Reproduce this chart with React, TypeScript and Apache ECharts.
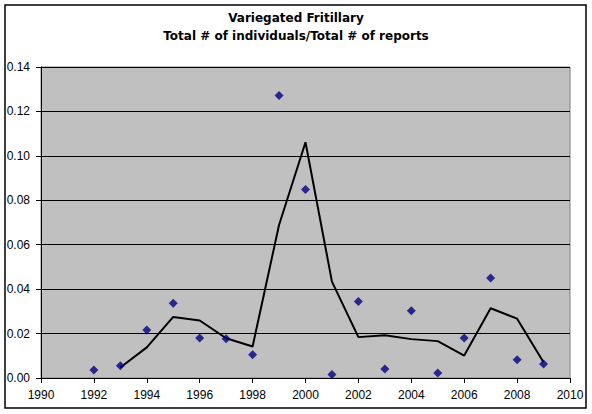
import React, { useEffect, useRef } from "react";
import * as echarts from "echarts";

const years = [1992, 1993, 1994, 1995, 1996, 1997, 1998, 1999, 2000, 2001, 2002, 2003, 2004, 2005, 2006, 2007, 2008, 2009];
const ratio = [0.0036, 0.0055, 0.0216, 0.0336, 0.018, 0.0177, 0.0105, 0.1272, 0.0849, 0.0016, 0.0344, 0.0041, 0.0303, 0.0023, 0.018, 0.045, 0.0082, 0.0063];
const trendYears = [1993, 1994, 1995, 1996, 1997, 1998, 1999, 2000, 2001, 2002, 2003, 2004, 2005, 2006, 2007, 2008, 2009];
const trend = [0.0047, 0.0138, 0.0275, 0.0259, 0.0179, 0.0142, 0.0689, 0.1061, 0.0434, 0.0184, 0.0192, 0.0175, 0.0166, 0.0101, 0.0314, 0.0267, 0.0071];
const titleLines = ["Variegated Fritillary", "Total # of individuals/Total # of reports"];

export default function App() {
  const ref = useRef<HTMLDivElement>(null);
  useEffect(() => {
    if (!ref.current) return;
    const chart = echarts.init(ref.current, null, { renderer: "svg" });
    const font = "Arial, 'Liberation Sans', sans-serif";
    chart.setOption({
      animation: false,
      backgroundColor: "#ffffff",
      textStyle: { fontFamily: font },
      title: {
        text: titleLines.join("\n"),
        left: "center",
        top: 4,
        textStyle: { fontFamily: "'DejaVu Sans', sans-serif", fontSize: 12, fontWeight: "bold", color: "#000", lineHeight: 18 },
      },
      graphic: [
        {
          type: "rect",
          shape: { x: 5, y: 5, width: 581, height: 403 },
          style: { fill: "none", stroke: "#000", lineWidth: 1.5 },
          z: 100,
        },
      ],
      grid: {
        left: 41,
        right: 22,
        top: 67,
        bottom: 36,
        show: true,
        backgroundColor: "#C0C0C0",
        borderColor: "#808080",
        borderWidth: 1,
      },
      xAxis: {
        type: "value",
        min: 1990,
        max: 2010,
        interval: 2,
        axisLine: { show: true, onZero: false, lineStyle: { color: "#000", width: 1 } },
        axisTick: { show: true, inside: false, length: 5, lineStyle: { color: "#000" } },
        axisLabel: { color: "#000", fontSize: 12, margin: 11, fontFamily: font, formatter: (v: number) => String(v) },
        splitLine: { show: false },
      },
      yAxis: {
        type: "value",
        min: 0,
        max: 0.14,
        interval: 0.02,
        axisLine: { show: true, lineStyle: { color: "#000", width: 1 } },
        axisTick: { show: true, inside: false, length: 5, lineStyle: { color: "#000" } },
        axisLabel: {
          color: "#000",
          fontSize: 12,
          margin: 11,
          fontFamily: font,
          formatter: (v: number) => v.toFixed(2),
        },
        splitLine: { show: true, lineStyle: { color: "#000", width: 1 } },
      },
      series: [
        {
          type: "line",
          data: trendYears.map((y, i) => [y, trend[i]]),
          showSymbol: false,
          symbol: "none",
          lineStyle: { color: "#000", width: 2 },
          z: 3,
        },
        {
          type: "scatter",
          data: years.map((y, i) => [y, ratio[i]]),
          symbol: "diamond",
          symbolSize: 9,
          itemStyle: { color: "#000080" },
          z: 4,
        },
      ],
    });
    return () => chart.dispose();
  }, []);
  return (
    <div
      ref={ref}
      style={{ position: "fixed", left: 0, top: 0, width: 592, height: 414 }}
    />
  );
}
